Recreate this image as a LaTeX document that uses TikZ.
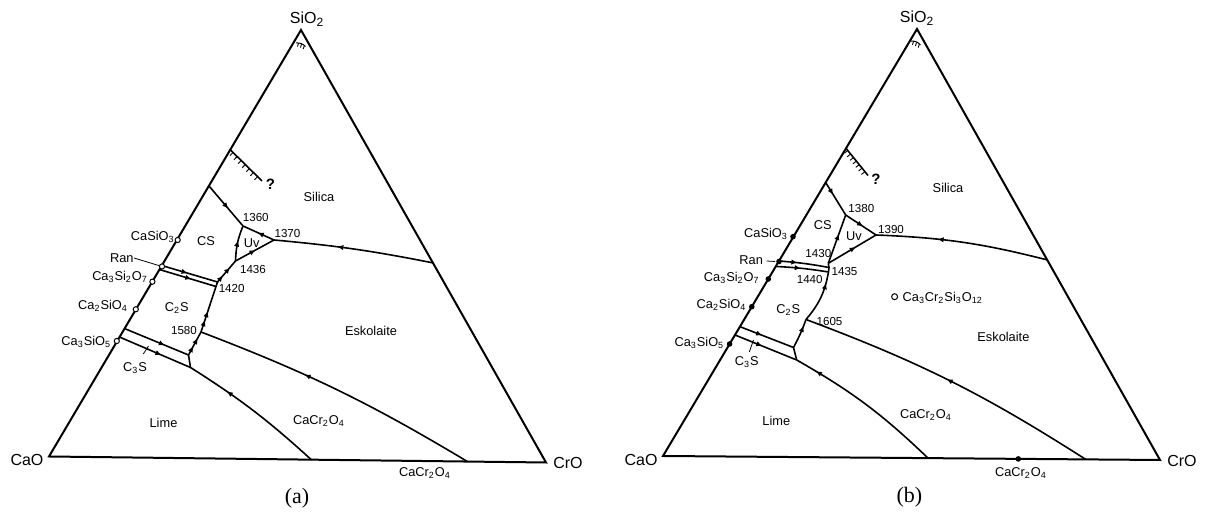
\documentclass[tikz,border=0pt]{standalone}
\usepackage{fontspec}
\newfontfamily\labfont{Liberation Sans}
\newfontfamily\capfont{Liberation Serif}
\usetikzlibrary{arrows.meta,decorations.markings}
\newcommand\sbs[1]{\textsubscript{#1}}
\tikzset{
  tri/.style={line width=1pt,line join=miter},
  bd/.style={line width=0.8pt},
  thinl/.style={line width=0.4pt},
  tk/.style={line width=0.45pt},
  arr/.style={postaction={decorate,decoration={markings,mark=at position #1 with {\arrow{Triangle[length=2.6pt,width=2.3pt]}}}}},
  hatch/.style={postaction={decorate,decoration={markings,mark=between positions 0.08 and 0.98 step 0.13 with {\draw[line width=0.45pt] (0pt,0pt) -- (0pt,-2.2pt);}}}},
  vtx/.style={font=\labfont\fontsize{8}{9}\selectfont,inner sep=0pt},
  lbl/.style={font=\labfont\fontsize{6.4}{7}\selectfont,inner sep=0pt},
  num/.style={font=\labfont\fontsize{5.8}{7}\selectfont,inner sep=0pt},
  capt/.style={font=\capfont\fontsize{11}{12}\selectfont,inner sep=0pt},
  oc/.style={circle,draw,line width=0.5pt,fill=white,inner sep=0pt,minimum size=2.6pt},
  fc/.style={circle,fill,inner sep=0pt,minimum size=2.8pt},
  qm/.style={font=\labfont\bfseries\fontsize{7.5}{8}\selectfont,inner sep=0pt},
}
\begin{document}
\begin{tikzpicture}[x=0.5pt,y=-0.5pt]
\useasboundingbox (0,0) rectangle (1211,522);
% ================= panel (a) =================
\coordinate (aT) at (301,30);
\coordinate (aL) at (49,456.5);
\coordinate (aR) at (546,462.5);
\coordinate (a1) at (209,186);
\coordinate (a1360) at (243,226);
\coordinate (a1370) at (274,240);
\coordinate (aRe) at (433.5,263);
\coordinate (a1436) at (235.5,261);
\coordinate (a1420) at (217.5,282);
\coordinate (aRanU) at (161.7,265.5);
\coordinate (aRanL) at (159.3,269.5);
\coordinate (aRanLe) at (216,286.5);
\coordinate (a1580) at (201,332);
\coordinate (aJ1) at (188.5,355);
\coordinate (aJ2) at (190.5,367.5);
\coordinate (aC3U) at (124.4,328.5);
\coordinate (aC3L) at (119.4,337);
\coordinate (aB1) at (311.5,459.9);
\coordinate (aB2) at (467.5,461.6);
\coordinate (aH1) at (230.5,150);
\coordinate (aH2) at (262,181);
\coordinate (aA1) at (296,43);
\coordinate (aA2) at (305.5,46.5);
\coordinate (aK1) at (143.3,354);
\coordinate (aK2) at (148.5,346);

\draw[bd,arr=0.55] (a1) -- (a1360);
\draw[bd,arr=0.5] (a1370) -- (a1360);
\draw[bd,arr=0.6] (aRe) to[bend right=3] (a1370);
\draw[bd,arr=0.5] (a1436) -- (a1370);
\draw[bd,arr=0.55] (a1436) to[bend left=10] (a1360);
\draw[bd,arr=0.27,arr=0.66] (a1420) -- (a1436);
\draw[bd,arr=0.45] (aRanU) -- (a1420);
\draw[bd,arr=0.55] (aRanL) -- (aRanLe);
\draw[bd,arr=0.22,arr=0.4] (a1580) -- (a1420);
\draw[bd,arr=0.35,arr=0.7] (aJ1) -- (a1580);
\draw[bd] (aJ1) -- (aJ2);
\draw[bd,arr=0.62] (aC3U) -- (aJ1);
\draw[bd,arr=0.58] (aC3L) -- (aJ2);
\draw[bd,arr=0.71] (aB1) to[bend right=5] (aJ2);
\draw[bd,arr=0.62] (aB2) to[bend right=5] (a1580);
\draw[bd,hatch] (aH1) -- (aH2);
\draw[line width=0.5pt] (aA1) to[bend left=25] (aA2);
\draw[tk] (298.5,43.2) -- (297.5,46.6);
\draw[tk] (301.5,44.2) -- (300.5,47.6);
\draw[tk] (304.3,45.6) -- (303.3,49);
\draw[tri] (aL) -- (aT) -- (aR) -- cycle;

\node[oc] (amCS) at (177.7,240) {};
\node[oc] (amRan) at (162,266.5) {};
\node[oc] (amC3S2) at (152.4,281.7) {};
\node[oc] (amC2S) at (135.8,309.3) {};
\node[oc] (amC3S) at (116.8,341) {};

\node[vtx] (aSi) at (307,19) {SiO\sbs{2}};
\node[vtx] (aCaO) at (27,460) {CaO};
\node[vtx] (aCrO) at (568,462.5) {CrO};
\node[lbl] (aSilica) at (319,197) {Silica};
\node[lbl] (aEsk) at (371,331) {Eskolaite};
\node[lbl] (aLime) at (163.5,423) {Lime};
\node[lbl] (aCC) at (319,421) {CaCr\sbs{2}O\sbs{4}};
\node[lbl] (aCCb) at (425,473) {CaCr\sbs{2}O\sbs{4}};
\node[lbl] (aCS) at (206,241) {CS};
\node[lbl] (aUv) at (251.7,243) {Uv};
\node[lbl] (aC2Sl) at (176.7,308.3) {C\sbs{2}S};
\node[lbl] (aC3Sl) at (135,368.3) {C\sbs{3}S};
\node[num] (an1360) at (255.8,217.3) {1360};
\node[num] (an1370) at (287.5,233.3) {1370};
\node[num] (an1436) at (253,269.3) {1436};
\node[num] (an1420) at (231.7,288.3) {1420};
\node[num] (an1580) at (184,330.7) {1580};
\node[qm] (aQ) at (270.5,184) {?};
\node[lbl,anchor=east] (aLCS) at (175,236.7) {CaSiO\sbs{3}};
\node[lbl,anchor=east] (aLRan) at (134,258) {Ran};
\node[lbl,anchor=east] (aLC3S2) at (148.3,276.7) {Ca\sbs{3}Si\sbs{2}O\sbs{7}};
\node[lbl,anchor=east] (aLC2S) at (128.3,306) {Ca\sbs{2}SiO\sbs{4}};
\node[lbl,anchor=east] (aLC3S) at (111.5,341.7) {Ca\sbs{3}SiO\sbs{5}};
\draw[thinl] (aLRan.east) -- (amRan);
\draw[thinl] (aK1) -- (aK2);
\node[capt] (acap) at (297,498) {(a)};

% ================= panel (b) =================
\coordinate (bT) at (917,29);
\coordinate (bL) at (663,456);
\coordinate (bR) at (1160,460);
\coordinate (b1) at (825.8,182.7);
\coordinate (b1380) at (845.7,215);
\coordinate (b1390) at (876,235);
\coordinate (bRe) at (1047.5,260);
\coordinate (b1430) at (828.3,263.3);
\coordinate (b1435) at (829,267.5);
\coordinate (b1440) at (828.5,272);
\coordinate (bRanU) at (779,261);
\coordinate (bRanL) at (776.5,266.5);
\coordinate (b1605) at (806,319.5);
\coordinate (bJ1) at (793.5,347.5);
\coordinate (bJ2) at (796.7,360);
\coordinate (bC3U) at (740,326.7);
\coordinate (bC3L) at (735,335);
\coordinate (bB1) at (928,458.1);
\coordinate (bB2) at (1085.7,459.4);
\coordinate (bH1) at (846,148.3);
\coordinate (bH2) at (868,175.5);
\coordinate (bA1) at (911,41);
\coordinate (bA2) at (920.5,45);
\coordinate (bK1) at (749.3,352);
\coordinate (bK2) at (753.5,340);
\coordinate (bD1) at (766.5,261);
\coordinate (bD2) at (775,261.5);

\draw[bd,arr=0.35] (b1) -- (b1380);
\draw[bd,arr=0.55] (b1380) -- (b1390);
\draw[bd,arr=0.64] (bRe) to[bend right=6] (b1390);
\draw[bd,arr=0.56] (b1430) -- (b1390);
\draw[bd,arr=0.59] (b1430) -- (b1380);
\draw[bd] (b1430) -- (b1435) -- (b1440);
\draw[bd,arr=0.35] (bRanU) to[bend left=3] (b1435);
\draw[bd,arr=0.45] (bRanL) to[bend left=3] (b1440);
\draw[bd,arr=0.77] (b1605) to[bend right=15] (b1440);
\draw[bd,arr=0.75] (bJ1) to[bend right=4] (b1605);
\draw[bd] (bJ1) -- (bJ2);
\draw[bd,arr=0.4] (bC3U) -- (bJ1);
\draw[bd,arr=0.43] (bC3L) -- (bJ2);
\draw[bd,arr=0.86] (bB1) to[bend right=7] (bJ2);
\draw[bd,arr=0.51] (bB2) to[bend right=6] (b1605);
\draw[bd,hatch] (bH1) -- (bH2);
\draw[line width=0.5pt] (bA1) to[bend left=25] (bA2);
\draw[tk] (913.5,41.4) -- (912.5,44.8);
\draw[tk] (916.5,42.6) -- (915.5,46);
\draw[tk] (919.3,44.2) -- (918.3,47.6);
\draw[tri] (bL) -- (bT) -- (bR) -- cycle;

\node[fc] (bmCS) at (793,236.7) {};
\node[fc] (bmRan) at (779,261.5) {};
\node[fc] (bmC3S2) at (768.3,279) {};
\node[fc] (bmC2S) at (751.8,306.7) {};
\node[fc] (bmC3S) at (729.6,344) {};
\node[fc] (bmCC) at (1018.3,458.9) {};
\node[oc,minimum size=3pt] (bmCCS) at (894.6,296.7) {};

\node[vtx] (bSi) at (917,18) {SiO\sbs{2}};
\node[vtx] (bCaO) at (641,460) {CaO};
\node[vtx] (bCrO) at (1182,461) {CrO};
\node[lbl] (bSilica) at (948,188) {Silica};
\node[lbl] (bEsk) at (1003.4,336.7) {Eskolaite};
\node[lbl] (bLime) at (776.3,420.7) {Lime};
\node[lbl] (bCC) at (926,415) {CaCr\sbs{2}O\sbs{4}};
\node[lbl] (bCCb) at (1021,473) {CaCr\sbs{2}O\sbs{4}};
\node[lbl] (bCCS) at (942.7,298.3) {Ca\sbs{3}Cr\sbs{2}Si\sbs{3}O\sbs{12}};
\node[lbl] (bCS) at (822.7,225) {CS};
\node[lbl] (bUv) at (854,236) {Uv};
\node[lbl] (bC2Sl) at (788.3,310) {C\sbs{2}S};
\node[lbl] (bC3Sl) at (746.7,361.7) {C\sbs{3}S};
\node[num] (bn1380) at (861.3,208.3) {1380};
\node[num] (bn1390) at (891,229.3) {1390};
\node[num] (bn1430) at (818.3,254) {1430};
\node[num] (bn1435) at (844.5,271.7) {1435};
\node[num] (bn1440) at (809.7,279.3) {1440};
\node[num] (bn1605) at (829.5,322) {1605};
\node[qm] (bQ) at (876,179.3) {?};
\node[lbl,anchor=east] (bLCS) at (788.3,234.3) {CaSiO\sbs{3}};
\node[lbl,anchor=east] (bLRan) at (763.3,260) {Ran};
\node[lbl,anchor=east] (bLC3S2) at (760,278.3) {Ca\sbs{3}Si\sbs{2}O\sbs{7}};
\node[lbl,anchor=east] (bLC2S) at (746.7,305) {Ca\sbs{2}SiO\sbs{4}};
\node[lbl,anchor=east] (bLC3S) at (724.6,343.3) {Ca\sbs{3}SiO\sbs{5}};
\draw[thinl] (bD1) -- (bD2);
\draw[thinl] (bK1) -- (bK2);
\node[capt] (bcap) at (909.4,497) {(b)};
\end{tikzpicture}
\end{document}
